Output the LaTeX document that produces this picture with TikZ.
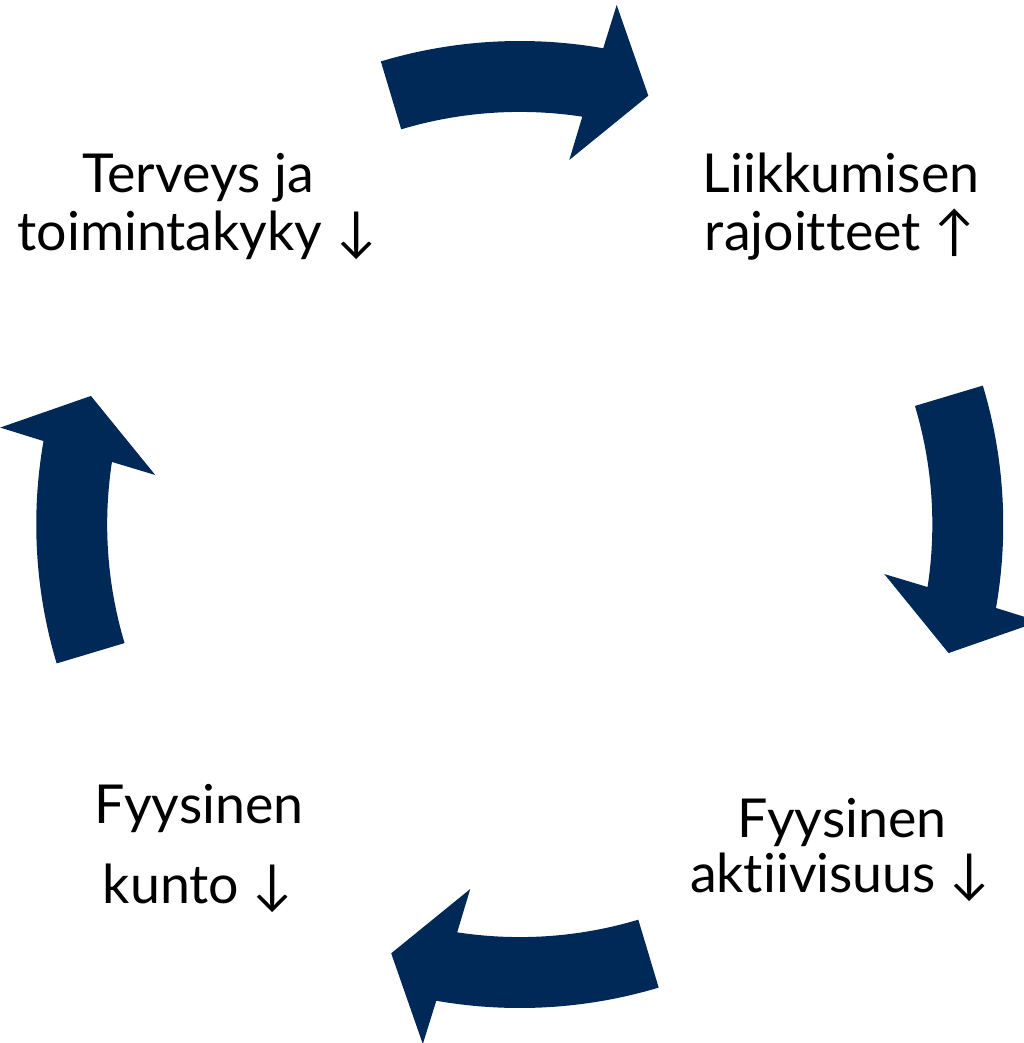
\documentclass[tikz,border=0pt]{standalone}
\usepackage{fontspec}
\setmainfont{Lato}[Ligatures=CommonOff, RawFeature={-liga;-dlig}]
\definecolor{navy}{RGB}{0,41,87}
\begin{document}
\begin{tikzpicture}[x=1pt,y=-1pt,
  lbl/.style={font=\fontsize{53.7}{60}\selectfont, anchor=base, inner sep=0pt, text=black},
  cyclearrow/.style={fill=navy}]
\useasboundingbox (0,0) rectangle (1024,1043);
\begin{scope}[shift={(519.75,524.5)}, y=1pt]
\foreach \r in {0,-90,-180,-270}{
  \fill[cyclearrow, rotate=\r] (106.7:483.5) arc[start angle=106.7, end angle=80.06, radius=483.5]
    -- (79.43:528.5) -- (73.31:447.7) -- (82.26:367.9) -- (81.28:412.6)
    arc[start angle=81.28, end angle=106.7, radius=412.6] -- cycle;
}
\end{scope}
\node[lbl] (a1) at (198,193) {Terveys ja};
\node[lbl] (a2) at (197,250) {toimintakyky ↓};
\node[lbl] (b1) at (841,193) {Liikkumisen};
\node[lbl] (b2) at (840,250) {rajoitteet ↑};
\node[lbl] (c1) at (842,837) {Fyysinen};
\node[lbl] (c2) at (840,892) {aktiivisuus ↓};
\node[lbl] (d1) at (199,823) {Fyysinen};
\node[lbl] (d2) at (198,903) {kunto ↓};
\end{tikzpicture}
\end{document}
